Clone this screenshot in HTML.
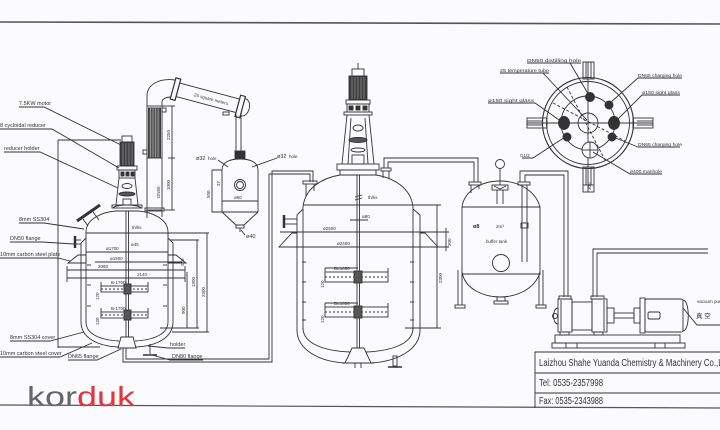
<!DOCTYPE html>
<html><head><meta charset="utf-8">
<style>
html,body{margin:0;padding:0;background:#fbfbfd;}
svg{display:block;}
text{font-family:"Liberation Sans","Noto Sans CJK SC",sans-serif;fill:#333;}
.s{font-size:5.5px;}
.xs{font-size:4.5px;}
</style></head><body>
<svg width="720" height="430" viewBox="0 0 720 430" xmlns="http://www.w3.org/2000/svg">
<rect width="720" height="430" fill="#fbfbfd"/>
<!-- border lines -->
<line x1="0" y1="22" x2="720" y2="24" stroke="#555" stroke-width="1.6"/>
<line x1="0" y1="405" x2="720" y2="408" stroke="#555" stroke-width="1.2"/>

<g fill="none" stroke="#333" stroke-width="0.9">
<!-- ================= LEFT VESSEL ================= -->
<rect x="122" y="136" width="10" height="6"/>
<rect x="120" y="142" width="14" height="24" fill="#3d3d3d"/>
<g stroke="#999" stroke-width="0.7"><line x1="123" y1="143" x2="123" y2="165"/><line x1="126" y1="143" x2="126" y2="165"/><line x1="129" y1="143" x2="129" y2="165"/><line x1="132" y1="143" x2="132" y2="165"/></g>
<rect x="117" y="166" width="20" height="4"/>
<rect x="119" y="170" width="16" height="8"/>
<rect x="121" y="172" width="3" height="4" fill="#333"/><rect x="126" y="172" width="3" height="4" fill="#333"/><rect x="131" y="172" width="3" height="4" fill="#333"/>
<line x1="119" y1="178" x2="116" y2="205"/><line x1="135" y1="178" x2="138" y2="205"/>
<ellipse cx="127" cy="186" rx="5" ry="2.5"/>
<ellipse cx="127" cy="194" rx="8" ry="2" fill="#555"/>
<rect x="123" y="199" width="8" height="6"/>
<rect x="112" y="205" width="30" height="3"/>
<path d="M113,208 C116,204 138,204 141,208"/>
<path d="M86,232 C86,219 102,212 116,211 L138,211 C152,212 168,219 168,232"/>
<line x1="86" y1="232" x2="86" y2="322"/><line x1="168" y1="232" x2="168" y2="322"/>
<path d="M86,322 C86,334 100,340 119,341"/>
<path d="M168,322 C168,334 154,340 135,341"/>
<path d="M86,238 L81,243 V322 C81,338 98,346 118,347"/>
<path d="M168,238 L173,243 V322 C173,338 156,346 136,347"/>
<path d="M121,337 L133,337 L136,348 L118,348 Z"/>
<rect x="126" y="211" width="2.5" height="126"/>
<line x1="77" y1="221" x2="100" y2="205" stroke-width="3"/>
<line x1="83" y1="219" x2="88" y2="226"/><line x1="93" y1="212" x2="99" y2="220"/>
<line x1="75" y1="236" x2="75" y2="248" stroke-width="2.5"/>
<line x1="75" y1="240" x2="81" y2="240"/><line x1="75" y1="244" x2="81" y2="244"/>
<polygon points="68,263 78,255 86,255 86,263"/>
<polygon points="168,255 176,255 186,263 168,263"/>
<line x1="86" y1="233" x2="209" y2="233"/>
<line x1="86" y1="252" x2="168" y2="252"/>
<line x1="95" y1="262" x2="182" y2="262"/>
<line x1="67" y1="270" x2="185" y2="270"/>
<line x1="67" y1="278" x2="185" y2="278"/>
<line x1="67" y1="266" x2="67" y2="282"/><line x1="185" y1="266" x2="185" y2="282"/>
<line x1="187" y1="272" x2="187" y2="328"/>
<line x1="197" y1="240" x2="197" y2="328"/>
<line x1="207" y1="233" x2="207" y2="332"/>
<line x1="160" y1="328" x2="199" y2="328"/>
<line x1="172" y1="332" x2="209" y2="332"/>
<line x1="170" y1="240" x2="199" y2="240"/>
<line x1="58" y1="140" x2="121" y2="140"/>
<line x1="58" y1="140" x2="58" y2="348"/>
<line x1="58" y1="347" x2="100" y2="347"/>
<line x1="87" y1="265" x2="91" y2="265"/><line x1="87" y1="285" x2="91" y2="285"/><line x1="87" y1="306" x2="91" y2="306"/>
<line x1="163" y1="265" x2="167" y2="265"/><line x1="163" y1="285" x2="167" y2="285"/><line x1="163" y1="306" x2="167" y2="306"/>
<rect x="101" y="286" width="47" height="6"/><line x1="101" y1="289" x2="148" y2="289" stroke-dasharray="2 2"/>
<rect x="124" y="284" width="7" height="10" fill="#555"/>
<rect x="101" y="312" width="47" height="6"/><line x1="101" y1="315" x2="148" y2="315" stroke-dasharray="2 2"/>
<rect x="124" y="310" width="7" height="10" fill="#555"/>
<line x1="101" y1="282" x2="101" y2="286"/><line x1="148" y1="282" x2="148" y2="286"/>
<line x1="101" y1="308" x2="101" y2="312"/><line x1="148" y1="308" x2="148" y2="312"/>
<line x1="150" y1="344" x2="150" y2="354"/>
<line x1="143" y1="355" x2="157" y2="355" stroke-width="1.5"/>
<path d="M19,107 H44 L121,145"/>
<path d="M0,129 H52 L119,168"/>
<path d="M4,152 H40 L118,188"/>
<path d="M19,223 H44 L84,229"/>
<path d="M10,242 H42 L74,244"/>
<path d="M0,258 H58 L70,261"/>
<path d="M10,341 H50 L84,332"/>
<path d="M0,357 H60 L92,343"/>
<path d="M68,360 H97 L121,349"/>
<path d="M185,348 H168 L148,346"/>
<path d="M203,360 H170 L152,355"/>

<path d="M123,348 V362 H272 V171 H313 V182"/>
<path d="M126,348 V359 H269 V174 H310 V182"/>

<!-- ================= CONDENSER ================= -->
<rect x="147" y="106" width="15" height="104"/>
<rect x="148.5" y="108" width="12" height="50" fill="#555"/>
<g stroke="#bbb" stroke-width="0.6"><line x1="150.5" y1="108" x2="150.5" y2="158"/><line x1="153" y1="108" x2="153" y2="158"/><line x1="155.5" y1="108" x2="155.5" y2="158"/><line x1="158" y1="108" x2="158" y2="158"/></g>
<line x1="147" y1="158" x2="162" y2="158"/>
<rect x="145" y="208" width="19" height="3"/>
<line x1="147" y1="211" x2="147" y2="218"/><line x1="162" y1="211" x2="162" y2="217"/>
<rect x="162" y="108" width="4" height="4"/>
<rect x="143" y="150" width="4" height="4"/>
<line x1="172" y1="106" x2="172" y2="210"/>
<line x1="162" y1="106" x2="175" y2="106"/>
<line x1="168" y1="158" x2="175" y2="158"/>
<line x1="164" y1="210" x2="175" y2="210"/>
<path d="M147,106 L147,96 C147,84 160,78 175,80"/>
<path d="M162,106 L162,102 C162,99 166,97 171,97"/>
<g transform="rotate(15 175 89)">
<rect x="178" y="82" width="62" height="14"/>
<rect x="173" y="78" width="5" height="22" stroke-width="1.2"/>
<rect x="240" y="78" width="5" height="22" stroke-width="1.2"/>
<path d="M245,80 C254,80 254,98 245,98"/>
<text x="195" y="91" class="xs" stroke="none">25 square meters</text>
</g>
<line x1="236" y1="114" x2="236" y2="151"/><line x1="241" y1="114" x2="241" y2="151"/>
<rect x="223" y="112" width="6" height="3"/>
<rect x="235" y="151" width="10" height="8" fill="#333"/>
<path d="M222,170 C222,162 230,159 240,159 C250,159 258,162 258,170"/>
<line x1="222" y1="170" x2="222" y2="212"/><line x1="258" y1="170" x2="258" y2="212"/>
<line x1="222" y1="201" x2="258" y2="201"/>
<line x1="222" y1="212" x2="258" y2="212"/>
<path d="M222,212 L236,225 L244,225 L258,212"/>
<rect x="236" y="225" width="8" height="3"/>
<line x1="240" y1="228" x2="240" y2="232"/>
<circle cx="240" cy="185" r="5.5"/><circle cx="240" cy="185" r="3.5"/>
<path d="M212,170 H222 M212,170 V212 H222"/>
<path d="M218,160 L228,167"/>
<path d="M277,158 L252,167"/>
<path d="M245,235 L241,230"/>

<!-- ================= MIDDLE VESSEL ================= -->
<line x1="358" y1="63" x2="358" y2="69"/>
<rect x="352" y="69" width="12" height="7"/>
<rect x="349" y="76" width="18" height="24" fill="#3d3d3d"/>
<g stroke="#999" stroke-width="0.7"><line x1="352" y1="77" x2="352" y2="99"/><line x1="355" y1="77" x2="355" y2="99"/><line x1="358" y1="77" x2="358" y2="99"/><line x1="361" y1="77" x2="361" y2="99"/><line x1="364" y1="77" x2="364" y2="99"/></g>
<rect x="346" y="100" width="24" height="4"/>
<rect x="347" y="104" width="22" height="8"/>
<rect x="349" y="106" width="4" height="4" fill="#333"/><rect x="356" y="106" width="4" height="4" fill="#333"/><rect x="363" y="106" width="4" height="4" fill="#333"/>
<rect x="344" y="112" width="28" height="3"/>
<line x1="347" y1="115" x2="342" y2="164"/><line x1="369" y1="115" x2="374" y2="164"/>
<line x1="351" y1="118" x2="348" y2="164"/><line x1="365" y1="118" x2="368" y2="164"/>
<ellipse cx="358" cy="128" rx="5" ry="3"/>
<ellipse cx="358" cy="140" rx="9" ry="2.5" fill="#555"/>
<ellipse cx="358" cy="150" rx="7" ry="2"/>
<rect x="352" y="155" width="12" height="9"/>
<rect x="337" y="164" width="42" height="6"/>
<rect x="340" y="170" width="36" height="5"/>
<path d="M303,207 C305,188 322,178 340,175 L376,175 C394,178 411,188 413,207"/>
<line x1="303" y1="207" x2="303" y2="330"/><line x1="413" y1="207" x2="413" y2="330"/>
<path d="M303,328 C303,344 325,351 350,352"/>
<path d="M413,328 C413,344 391,351 366,352"/>
<path d="M303,209 L297,215 V330 C297,350 320,362 346,363"/>
<path d="M413,209 L420,215 V330 C420,350 396,362 370,363"/>
<path d="M352,348 L364,348 L371,363 L345,363 Z"/>
<line x1="342" y1="363" x2="374" y2="363"/>
<line x1="355" y1="363" x2="355" y2="368"/><line x1="361" y1="363" x2="361" y2="368"/>
<rect x="393" y="356" width="4" height="10"/>
<line x1="388" y1="367" x2="402" y2="367" stroke-width="1.5"/>
<rect x="357" y="175" width="2.5" height="173"/>
<rect x="303" y="181" width="14" height="3"/>
<line x1="306" y1="184" x2="306" y2="196"/><line x1="314" y1="184" x2="314" y2="191"/>
<rect x="381" y="168" width="10" height="3"/>
<line x1="383" y1="171" x2="383" y2="178"/><line x1="389" y1="171" x2="389" y2="179"/>
<line x1="284" y1="215" x2="284" y2="228" stroke-width="2.5"/>
<line x1="284" y1="219" x2="297" y2="219"/><line x1="284" y1="224" x2="297" y2="224"/>
<polygon points="279,247 292,233 297,233 297,247"/>
<polygon points="420,233 425,233 438,247 420,247"/>
<line x1="303" y1="205" x2="441" y2="205"/>
<line x1="280" y1="232" x2="449" y2="232"/>
<line x1="297" y1="247" x2="449" y2="247"/>
<line x1="437" y1="205" x2="437" y2="328"/>
<line x1="446" y1="228" x2="446" y2="251"/>
<line x1="405" y1="328" x2="441" y2="328"/>
<line x1="350" y1="220" x2="368" y2="220"/>
<path d="M355,197 L362,195 M355,200 L362,198"/>
<line x1="302" y1="262" x2="306" y2="262"/><line x1="302" y1="282" x2="306" y2="282"/><line x1="302" y1="302" x2="306" y2="302"/><line x1="302" y1="320" x2="306" y2="320"/>
<line x1="410" y1="262" x2="414" y2="262"/><line x1="410" y1="282" x2="414" y2="282"/><line x1="410" y1="302" x2="414" y2="302"/><line x1="410" y1="320" x2="414" y2="320"/>
<rect x="325" y="272" width="63" height="10"/><line x1="325" y1="277" x2="388" y2="277" stroke-dasharray="2 2"/>
<rect x="354" y="271" width="8" height="12" fill="#555"/>
<line x1="325" y1="268" x2="325" y2="272"/><line x1="388" y1="268" x2="388" y2="272"/><line x1="325" y1="268" x2="358" y2="268"/>
<rect x="325" y="307" width="63" height="10"/><line x1="325" y1="312" x2="388" y2="312" stroke-dasharray="2 2"/>
<rect x="354" y="306" width="8" height="12" fill="#555"/>
<line x1="325" y1="303" x2="325" y2="307"/><line x1="388" y1="303" x2="388" y2="307"/><line x1="325" y1="303" x2="358" y2="303"/>

<path d="M384,168 V158 H478 V182"/>
<path d="M388,168 V162 H474 V182"/>

<!-- ================= BUFFER TANK ================= -->
<circle cx="500" cy="164" r="4.5"/>
<line x1="500" y1="168.5" x2="500" y2="185"/>
<rect x="492" y="185" width="16" height="5"/>
<path d="M494,186 L500,189 L506,186"/>
<line x1="497" y1="190" x2="497" y2="204"/><line x1="503" y1="190" x2="503" y2="204"/>
<rect x="469" y="182" width="12" height="3"/>
<line x1="471" y1="185" x2="471" y2="193"/><line x1="479" y1="185" x2="479" y2="189"/>
<rect x="518" y="182" width="12" height="3"/>
<path d="M462,207 C464,192 480,181 500,181 C520,181 536,192 540,207"/>
<line x1="462" y1="207" x2="540" y2="207"/>
<line x1="462" y1="207" x2="462" y2="275"/><line x1="540" y1="207" x2="540" y2="275"/>
<line x1="462" y1="274" x2="540" y2="274"/>
<path d="M462,272 C465,290 485,297 500,297 C515,297 535,290 540,272"/>
<line x1="522" y1="185" x2="522" y2="262"/><line x1="527" y1="185" x2="527" y2="262"/>
<rect x="521" y="223" width="7" height="5"/>
<circle cx="501" cy="263" r="8.5"/>
<line x1="458" y1="270" x2="458" y2="305"/><line x1="462" y1="275" x2="462" y2="305"/>
<rect x="455" y="305" width="10" height="3"/>
<line x1="539" y1="275" x2="539" y2="305"/><line x1="543" y1="270" x2="543" y2="305"/>
<rect x="536" y="305" width="10" height="3"/>
<rect x="497" y="297" width="8" height="4"/>
<rect x="494" y="301" width="14" height="3"/>

<path d="M520,182 V171 H568 V297"/>
<path d="M525,182 V175 H564 V297"/>
<path d="M593,297 V249 H708"/>
<path d="M597,297 V253 H708"/>

<!-- ================= PUMP ================= -->
<rect x="559" y="296" width="12" height="3"/>
<rect x="591" y="296" width="13" height="3"/>
<rect x="558" y="299" width="14" height="33"/>
<rect x="572" y="302" width="20" height="28"/>
<rect x="592" y="299" width="15" height="33"/>
<line x1="561" y1="300" x2="561" y2="331"/><line x1="604" y1="300" x2="604" y2="331"/>
<path d="M558,308 C552,308 552,324 558,324"/>
<circle cx="555" cy="316" r="2.5"/>
<rect x="607" y="308" width="7" height="15"/>
<rect x="614" y="313" width="20" height="5"/>
<rect x="634" y="308" width="6" height="15"/>
<rect x="640" y="298" width="5" height="35"/>
<rect x="645" y="299" width="38" height="33" rx="2"/>
<path d="M683,300 C690,300 690,331 683,331"/>
<rect x="648" y="312" width="12" height="7" rx="1.5"/>
<rect x="560" y="332" width="9" height="3"/><rect x="594" y="332" width="9" height="3"/>
<rect x="555" y="335" width="125" height="8"/>
<rect x="552" y="343" width="133" height="5"/>
<line x1="566" y1="343" x2="566" y2="348"/><line x1="577" y1="343" x2="577" y2="348"/>
<line x1="655" y1="343" x2="655" y2="348"/><line x1="665" y1="343" x2="665" y2="348"/>
<path d="M683,308 L697,325 H720"/>

<!-- ================= TOP VIEW ================= -->
<circle cx="588" cy="123" r="45.5" stroke-width="1.1"/>
<circle cx="588" cy="123" r="41.5"/>
<circle cx="588" cy="123" r="27"/>
<circle cx="588" cy="123" r="10"/>
<line x1="527" y1="123" x2="653" y2="123"/>
<line x1="588" y1="62" x2="588" y2="192"/>
<rect x="583" y="62" width="11" height="17"/>
<line x1="586" y1="62" x2="586" y2="79"/><line x1="591" y1="62" x2="591" y2="79"/>
<rect x="583" y="167" width="11" height="25"/>
<line x1="586" y1="167" x2="586" y2="185"/><line x1="591" y1="167" x2="591" y2="185"/>
<line x1="583" y1="185" x2="594" y2="185"/>
<rect x="527" y="118" width="20" height="10"/>
<line x1="527" y1="121" x2="543" y2="121"/><line x1="527" y1="125" x2="543" y2="125"/>
<rect x="633" y="118" width="20" height="10"/>
<line x1="637" y1="121" x2="653" y2="121"/><line x1="637" y1="125" x2="653" y2="125"/>
<line x1="567" y1="87" x2="606" y2="162" stroke-dasharray="3 2"/>
<line x1="553" y1="103" x2="625" y2="141" stroke-dasharray="3 2"/>
<g fill="#333">
<circle cx="590" cy="97" r="4.5"/>
<circle cx="609" cy="105" r="4"/>
<ellipse cx="564" cy="123" rx="5.5" ry="6.5"/>
<ellipse cx="614" cy="123" rx="5.5" ry="6.5"/>
<circle cx="567" cy="137" r="4"/>
<circle cx="612" cy="137" r="4"/>
</g>
<circle cx="590" cy="150" r="8" fill="#fbfbfd"/>
<line x1="582" y1="150" x2="598" y2="150"/><line x1="590" y1="142" x2="590" y2="158"/>
<path d="M527,63 H581 M570,63 L590,97"/>
<path d="M500,73 H549 M543,73 L587,120"/>
<path d="M488,103 H535 L562,122"/>
<path d="M682,78 H638 L610,103"/>
<path d="M680,95 H642 L617,120"/>
<path d="M680,147 H638 L613,137"/>
<path d="M662,174 H630 L593,152"/>
<path d="M522,158 H533 L565,137"/>

<path d="M535,408 V352 H720 M535,373 H720 M535,393 H720"/>
</g>

<!-- ================= TEXT ================= -->
<g stroke="none">
<text x="19" y="105" class="s">7.5KW motor</text>
<text x="0" y="127" class="s">8 cycloidal reducer</text>
<text x="4" y="150" class="s">reducer holder</text>
<text x="19" y="221" class="s">8mm SS304</text>
<text x="10" y="240" class="s">DN50 flange</text>
<text x="0" y="256" class="s">10mm carbon steel plate</text>
<text x="10" y="339" class="s">8mm SS304 cover</text>
<text x="0" y="355" class="s">10mm carbon steel cover</text>
<text x="68" y="358" class="s">DN65 flange</text>
<text x="170" y="346" class="s">holder</text>
<text x="172" y="358" class="s">DN80 flange</text>
<text x="132" y="229" class="xs">th/ks</text>
<text x="131" y="246" class="xs">ø45</text>
<text x="106" y="250" class="xs">ø1700</text>
<text x="110" y="260" class="xs">ø1500</text>
<text x="98" y="268" class="xs">2080</text>
<text x="137" y="276" class="xs">2140</text>
<text x="111" y="284" class="xs">B-1700</text>
<text x="111" y="310" class="xs">B-1700</text>
<text transform="translate(99,300) rotate(-90)" class="xs">120</text>
<text transform="translate(99,325) rotate(-90)" class="xs">120</text>
<text transform="translate(195,287) rotate(-90)" class="xs">1900</text>
<text transform="translate(185,314) rotate(-90)" class="xs">900</text>
<text transform="translate(205,297) rotate(-90)" class="xs">2300</text>
<text transform="translate(184,266) rotate(-90)" class="xs">280</text>
<text transform="translate(160,198) rotate(-90)" class="xs">DN50</text>
<text transform="translate(170,190) rotate(-90)" class="xs">1000</text>
<text transform="translate(170,140) rotate(-90)" class="xs">2250</text>
<text transform="translate(210,198) rotate(-90)" class="xs">500</text>
<text transform="translate(220,186) rotate(-90)" class="xs">37</text>
<text x="196" y="160" class="s">ø32</text><text x="208" y="160" class="xs">hole</text>
<text x="277" y="158" class="s">ø32</text><text x="289" y="158" class="xs">hole</text>
<text x="234" y="199" class="xs">ø60</text>
<text x="246" y="238" class="s">ø40</text>
<text x="368" y="199" class="xs">th/ks</text>
<text x="362" y="218" class="xs">ø80</text>
<text x="323" y="230" class="xs">ø2500</text>
<text x="337" y="245" class="xs">ø2400</text>
<text x="334" y="270" class="xs">DL1050</text>
<text x="334" y="305" class="xs">DL1050</text>
<text transform="translate(324,288) rotate(-90)" class="xs">120</text>
<text transform="translate(324,323) rotate(-90)" class="xs">120</text>
<text transform="translate(442,283) rotate(-90)" class="xs">2300</text>
<text transform="translate(451,246) rotate(-90)" class="xs">300</text>
<text x="473" y="228" class="s" font-weight="bold">ø8</text>
<text x="496" y="228" class="xs">2m³</text>
<text x="486" y="243" class="xs">buffer tank</text>
<text x="527" y="62" class="xs" textLength="54" lengthAdjust="spacingAndGlyphs">DN50 distilling hole</text>
<text x="500" y="72" class="xs" textLength="49" lengthAdjust="spacingAndGlyphs">25 temperature tube</text>
<text x="488" y="102" class="xs" textLength="46" lengthAdjust="spacingAndGlyphs">ø150 sight glass</text>
<text x="638" y="77" class="xs" textLength="44" lengthAdjust="spacingAndGlyphs">DN65 charging hole</text>
<text x="642" y="94" class="xs" textLength="38" lengthAdjust="spacingAndGlyphs">ø150 sight glass</text>
<text x="638" y="146" class="xs" textLength="44" lengthAdjust="spacingAndGlyphs">DN65 charging hole</text>
<text x="630" y="173" class="xs" textLength="32" lengthAdjust="spacingAndGlyphs">ø400 manhole</text>
<text x="520" y="157" class="xs">G1/2</text>
<text transform="translate(591,190) rotate(-90)" class="xs">300</text>
<text x="697" y="303" class="xs">vacuum pump</text>
<text x="696" y="318" font-size="6.5">真 空</text>
<text x="539" y="366" font-size="10" textLength="190" lengthAdjust="spacingAndGlyphs">Laizhou Shahe Yuanda Chemistry &amp; Machinery Co.,Ltd</text>
<text x="539" y="386" font-size="10" textLength="64" lengthAdjust="spacingAndGlyphs">Tel: 0535-2357998</text>
<text x="539" y="404" font-size="10" textLength="64" lengthAdjust="spacingAndGlyphs">Fax: 0535-2343988</text>
<text x="27" y="406" font-family="'Liberation Mono',monospace" font-size="28" textLength="108" lengthAdjust="spacingAndGlyphs"><tspan fill="#666">kor</tspan><tspan fill="#e2353e">duk</tspan></text>
</g>
</svg>
</body></html>
